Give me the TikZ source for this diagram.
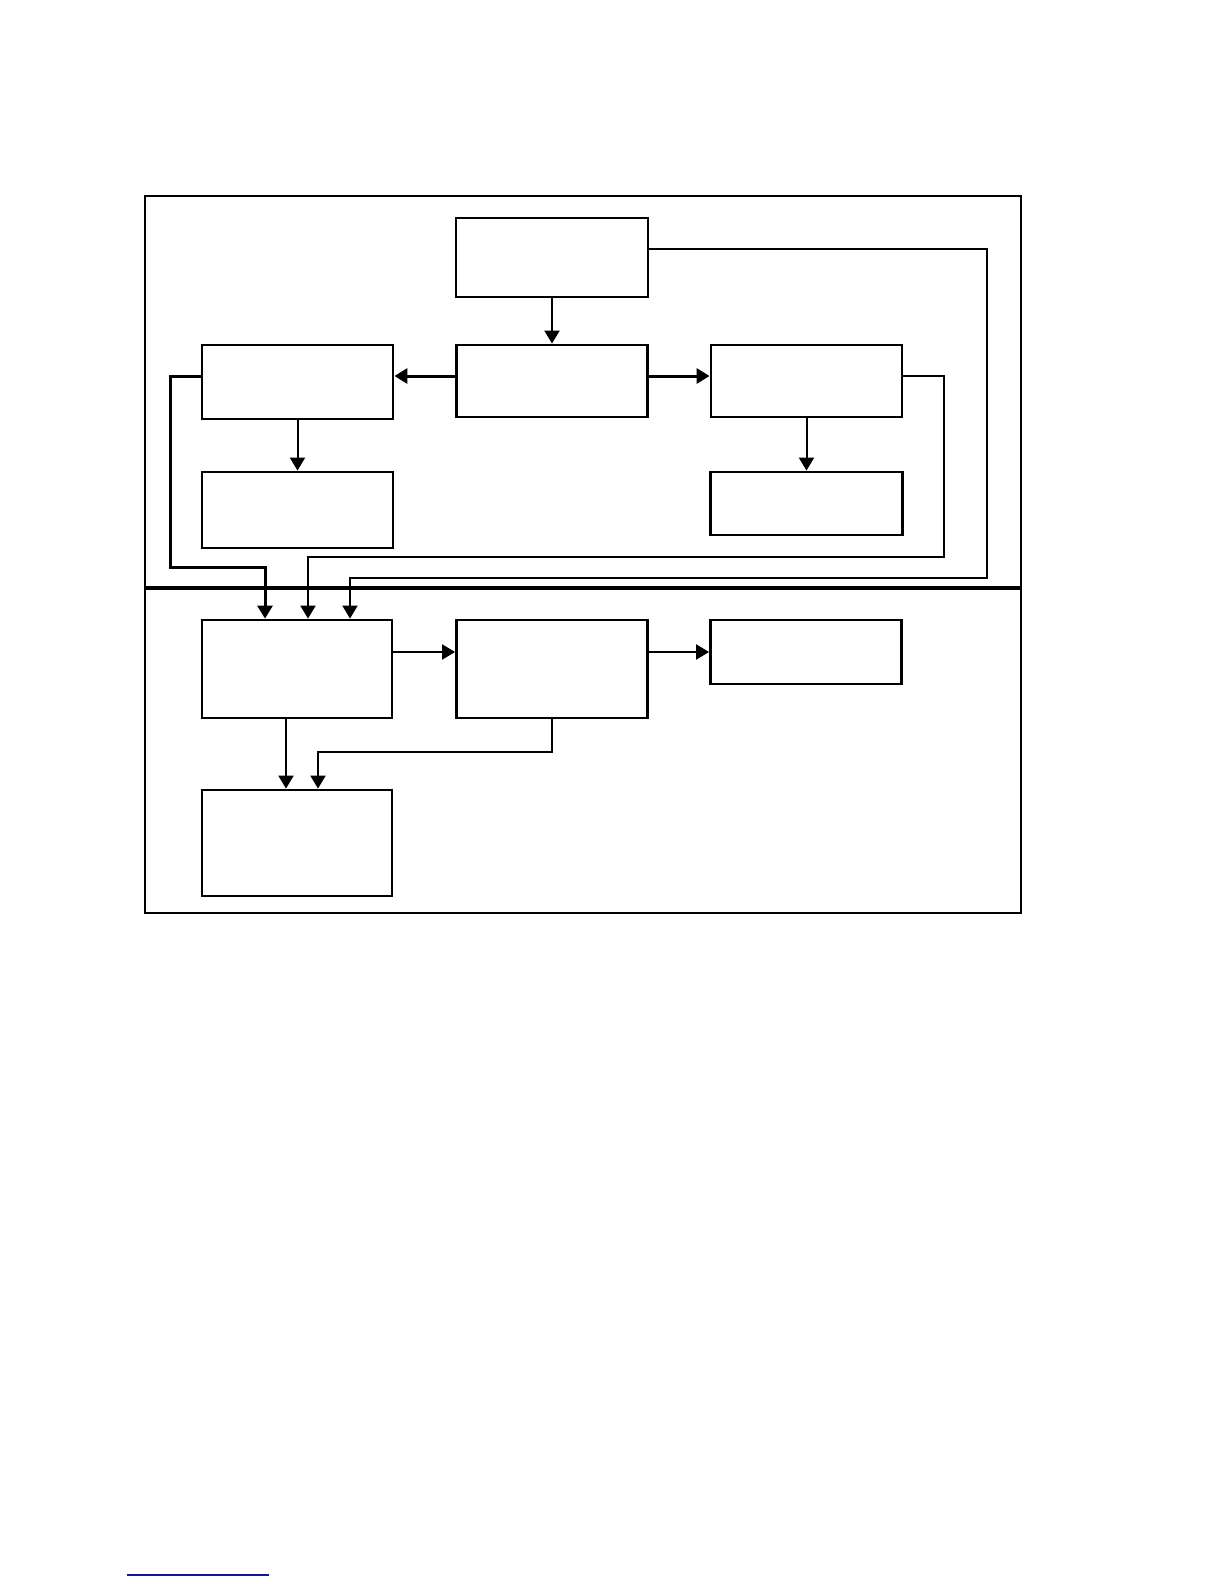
\documentclass[tikz,border=0pt]{standalone}
\usetikzlibrary{arrows.meta}
\definecolor{rulebl}{RGB}{20,20,160}
\tikzset{
  box/.style={draw, rectangle, line width=1.4pt, inner sep=0pt, fill=white},
  conn/.style={line width=1pt},
  thickconn/.style={line width=1.5pt},
  arr/.style={-{Triangle[length=6.5pt,width=7.5pt]}},
}
\begin{document}
\begin{tikzpicture}[x=0.5pt,y=-0.5pt]
\useasboundingbox (0,0) rectangle (1224,1584);
% frame and divider
\draw[line width=1pt] (145,196) rectangle (1021,913);
\draw[line width=2pt] (145,588) -- (1021,588);
% boxes
\node[box, minimum width=96pt, minimum height=39.5pt] (A) at (552,257.5) {};
\node[box, minimum width=95.5pt, minimum height=36pt] (B) at (552,381) {};
\node[box, minimum width=95.5pt, minimum height=37pt] (L) at (297.5,382) {};
\node[box, minimum width=95.5pt, minimum height=36pt] (R) at (806.5,381) {};
\node[box, minimum width=95.5pt, minimum height=38pt] (L2) at (297.5,510) {};
\node[box, minimum width=96pt, minimum height=31.5pt] (R2) at (806.5,503.5) {};
\node[box, minimum width=95pt, minimum height=49pt] (C1) at (297,669) {};
\node[box, minimum width=95.5pt, minimum height=49pt] (C2) at (552,669) {};
\node[box, minimum width=95.5pt, minimum height=32pt] (C3) at (806,652) {};
\node[box, minimum width=95pt, minimum height=53pt] (C4) at (297,843) {};
% routing coordinates
\coordinate (ya) at (0,249);
\coordinate (ymid) at (0,376);
\coordinate (y652) at (0,652);
\coordinate (ka) at (987,578);
\coordinate (kr) at (944,557);
\coordinate (kl) at (170,567);
\coordinate (xa) at (350,0);
\coordinate (xb) at (308,0);
\coordinate (xc) at (265,0);
\coordinate (x286) at (286,0);
\coordinate (k4) at (318,752);
% connectors upper section
\draw[conn,arr] (A.south) -- (B.north);
\draw[thickconn,arr] (B.west |- ymid) -- (L.east |- ymid);
\draw[thickconn,arr] (B.east |- ymid) -- (R.west |- ymid);
\draw[conn,arr] (L.south) -- (L2.north);
\draw[conn,arr] (R.south) -- (R2.north);
% long feedback connectors into C1
\draw[conn,arr] (A.east |- ya) -| (ka) -| (C1.north -| xa);
\draw[conn,arr] (R.east |- ymid) -| (kr) -| (C1.north -| xb);
\draw[thickconn,arr] (L.west |- ymid) -| (kl) -| (C1.north -| xc);
% lower section
\draw[conn,arr] (C1.east |- y652) -- (C2.west |- y652);
\draw[conn,arr] (C2.east |- y652) -- (C3.west |- y652);
\draw[conn,arr] (C1.south -| x286) -- (C4.north -| x286);
\draw[conn,arr] (C2.south) |- (k4) -- (C4.north -| k4);
% footnote rule
\draw[rulebl, line width=0.8pt] (127,1575) -- (269,1575);
\end{tikzpicture}
\end{document}
